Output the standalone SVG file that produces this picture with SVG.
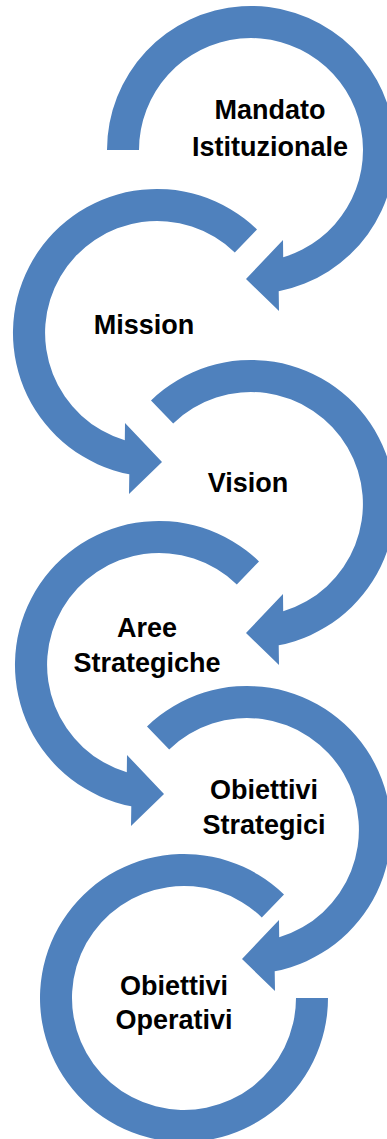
<svg xmlns="http://www.w3.org/2000/svg" width="387" height="1139" viewBox="0 0 387 1139">
<style>
.arrow{fill:#4F81BD;stroke:none}
.lbl{font-family:"Liberation Sans",Arial,sans-serif;font-weight:bold;font-size:27px;fill:#000;text-anchor:middle}
</style>
<rect width="387" height="1139" fill="#fff"/>
<g id="connectors">
<path class="arrow" d="M107,150 A144,144 0 1 1 278.7,291.3 L279,311 L246,279 L283,240 L283.2,257.3 A112,112 0 1 0 139,150 Z"/>
<path class="arrow" d="M257,229.4 A144,144 0 1 0 129.3,474.3 L129,494 L162,462 L125,423 L124.8,440.3 A112,112 0 1 1 234.8,252.4 Z"/>
<path class="arrow" d="M151,400.4 A144,144 0 1 1 278.7,645.3 L279,665 L246,633 L283,594 L283.2,611.3 A112,112 0 1 0 173.2,423.4 Z"/>
<path class="arrow" d="M259,561.4 A144,144 0 1 0 131.3,806.3 L131,826 L164,794 L127,755 L126.8,772.3 A112,112 0 1 1 236.8,584.4 Z"/>
<path class="arrow" d="M147,726.4 A144,144 0 1 1 274.7,971.3 L275,991 L242,959 L279,920 L279.2,937.3 A112,112 0 1 0 169.2,749.4 Z"/>
<path class="arrow" d="M284,894.4 A144,144 0 1 0 328,998 L296,998 A112,112 0 1 1 261.8,917.4 Z"/>
</g>
<g id="node-mandato"><text class="lbl" x="270" y="119">Mandato</text><text class="lbl" x="270" y="155.5">Istituzionale</text></g>
<g id="node-mission"><text class="lbl" x="144" y="334">Mission</text></g>
<g id="node-vision"><text class="lbl" x="248" y="491.5">Vision</text></g>
<g id="node-aree"><text class="lbl" x="147" y="636.5">Aree</text><text class="lbl" x="147" y="672">Strategiche</text></g>
<g id="node-obiettivi-strategici"><text class="lbl" x="264" y="799">Obiettivi</text><text class="lbl" x="264" y="834">Strategici</text></g>
<g id="node-obiettivi-operativi"><text class="lbl" x="174" y="995">Obiettivi</text><text class="lbl" x="174" y="1029">Operativi</text></g>
</svg>
